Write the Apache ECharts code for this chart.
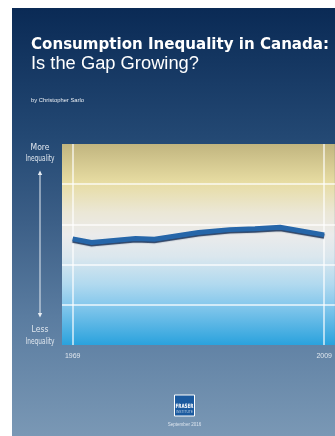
<!DOCTYPE html>
<html><head><meta charset="utf-8">
<script src="https://cdn.jsdelivr.net/npm/echarts@6/dist/echarts.min.js"></script>
<style>html,body{margin:0;padding:0;background:#fff;}#c{width:335px;height:436px;}</style>
</head><body><div id="c"></div>
<script>
// ---- data ----
const years = [1969, 1972, 1979, 1982, 1989, 1994, 1998, 2002, 2009];
const inequalityIndex = [2.64, 2.55, 2.65, 2.63, 2.80, 2.87, 2.89, 2.93, 2.74];
const xTickLabels = [1969, 2009];
const titleText = 'Consumption Inequality in Canada:';
const subtitleText = 'Is the Gap Growing?';
const authorText = 'by Christopher Sarlo';
const topLabel = ['More', 'Inequality'];
const bottomLabel = ['Less', 'Inequality'];
const dateText = 'September 2016';

// ---- helpers ----
const mctx = document.createElement('canvas').getContext('2d');
function fitScale(text, font, w) { mctx.font = font; return w / mctx.measureText(text).width; }
function txt(text, x, y, font, fill, width, align) {
  const el = { type: 'text', x: x, y: y, z: 50,
    style: { text: text, x: 0, y: 0, font: font, fill: fill, align: align || 'left', verticalAlign: 'middle' } };
  if (width) el.scaleX = fitScale(text, font, width);
  return el;
}
const condensed = "'Liberation Sans Narrow','DejaVu Sans Condensed',sans-serif";
const titleFont = "bold 16.5px " + condensed;
const sansFont = "'Liberation Sans',Arial,sans-serif";
const labelColor = '#dfe6ee';

const chart = echarts.init(document.getElementById('c'), null, { renderer: 'canvas' });
chart.setOption({
  animation: false,
  graphic: [
    { type: 'rect', z: -100, shape: { x: 12, y: 8, width: 323, height: 428 },
      style: { fill: new echarts.graphic.LinearGradient(0, 0, 0, 1, [
        { offset: 0, color: '#0a2a55' },
        { offset: 0.3, color: '#234873' },
        { offset: 0.5, color: '#3c5f87' },
        { offset: 0.72, color: '#5a7ca0' },
        { offset: 1, color: '#7a98b5' }]) } },
    txt(titleText, 31, 44.5, titleFont, '#ffffff', 298),
    txt(subtitleText, 31, 64, "18px " + sansFont, '#ffffff', 168),
    txt(authorText, 31, 100, "5.5px " + sansFont, '#e8edf3', 53),
    txt(topLabel[0], 40, 147.5, "8.5px " + condensed, labelColor, null, 'center'),
    txt(topLabel[1], 40, 159, "8.5px " + condensed, labelColor, 29, 'center'),
    txt(bottomLabel[0], 40, 330, "8.5px " + condensed, labelColor, null, 'center'),
    txt(bottomLabel[1], 40, 341.5, "8.5px " + condensed, labelColor, 29, 'center'),
    { type: 'line', z: 50, shape: { x1: 40, y1: 174, x2: 40, y2: 314 }, style: { stroke: '#e6ecf2', lineWidth: 1 } },
    { type: 'polygon', z: 50, shape: { points: [[40, 170.5], [37.8, 175], [42.2, 175]] }, style: { fill: '#e6ecf2' } },
    { type: 'polygon', z: 50, shape: { points: [[40, 317.5], [37.8, 313], [42.2, 313]] }, style: { fill: '#e6ecf2' } },
    { type: 'rect', z: 50, shape: { x: 174.5, y: 395, width: 20, height: 21 }, style: { fill: '#1b5a9f', stroke: '#ffffff', lineWidth: 1 } },
    txt('FRASER', 184.5, 406, "bold 6px " + condensed, '#ffffff', 18, 'center'),
    txt('INSTITUTE', 184.5, 412.5, "3px " + sansFont, '#b9cde3', 17, 'center'),
    txt(dateText, 184.5, 425, "5px " + sansFont, '#dbe4ee', 33.5, 'center')
  ],
  grid: {
    left: 62, right: 0, top: 144, bottom: 91, show: true, borderWidth: 0,
    backgroundColor: new echarts.graphic.LinearGradient(0, 0, 0, 1, [
      { offset: 0, color: '#c1b57f' },
      { offset: 0.19, color: '#e7dca2' },
      { offset: 0.34, color: '#ebe7d6' },
      { offset: 0.45, color: '#ebebeb' },
      { offset: 0.56, color: '#dbe7ee' },
      { offset: 0.7, color: '#b0d9ef' },
      { offset: 0.8, color: '#86c8ec' },
      { offset: 1, color: '#2aa2dd' }])
  },
  xAxis: {
    type: 'value', min: 1967.3, max: 2010.7,
    axisLine: { show: false }, axisTick: { show: false }, splitLine: { show: false },
    axisLabel: { customValues: xTickLabels, formatter: v => String(v), color: labelColor, fontSize: 7, fontFamily: sansFont, margin: 8 }
  },
  yAxis: {
    type: 'value', min: 0, max: 5, interval: 1,
    axisLine: { show: false }, axisTick: { show: false }, axisLabel: { show: false },
    splitLine: { show: true, showMinLine: false, showMaxLine: false, lineStyle: { color: 'rgba(255,255,255,0.85)', width: 1.5 } }
  },
  series: [{
    type: 'line', symbol: 'none', z: 10,
    data: years.map((y, i) => [y, inequalityIndex[i]]),
    lineStyle: { color: '#2666a9', width: 5, cap: 'butt', join: 'miter',
      shadowColor: 'rgba(10,35,75,0.85)', shadowOffsetY: 1.5, shadowBlur: 1 },
    markLine: {
      silent: true, symbol: 'none', label: { show: false },
      lineStyle: { color: 'rgba(255,255,255,0.8)', width: 1.5, type: 'solid' },
      data: xTickLabels.map(v => ({ xAxis: v }))
    }
  }]
});
</script></body></html>
